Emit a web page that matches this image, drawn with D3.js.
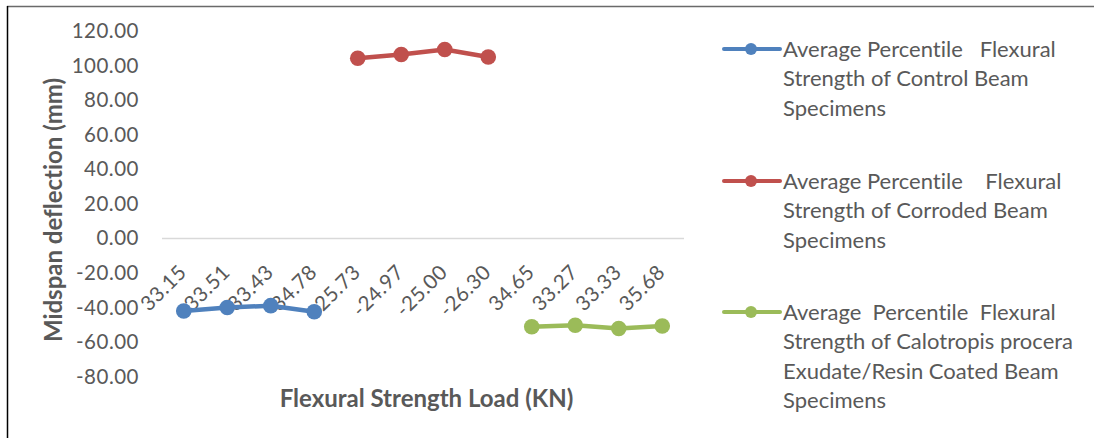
<!DOCTYPE html>
<html>
<head>
<meta charset="utf-8">
<script src="https://cdn.jsdelivr.net/npm/d3@7"></script>
<style>
  html, body { margin: 0; padding: 0; background: #fff; }
  svg { display: block; font-family: Lato, "Open Sans", sans-serif; }
  text { white-space: pre; font-variant-ligatures: none; font-feature-settings: "liga" 0, "clig" 0; }
</style>
</head>
<body>
<svg id="chart" width="1094" height="438"></svg>
<script>
// Category labels along the x axis (load values, KN)
const loadLabels = ["33.15", "33.51", "33.43", "34.78", "-25.73", "-24.97", "-25.00", "-26.30", "34.65", "33.27", "33.33", "35.68"];

// Midspan deflection (mm) for each specimen group
const controlValues  = [-42.0, -40.0, -38.9, -42.4];
const corrodedValues = [104.2, 106.4, 109.3, 105.0];
const coatedValues   = [-51.1, -50.2, -52.1, -50.7];

// Which category index each group starts at
const controlStart = 0, corrodedStart = 4, coatedStart = 8;

const seriesNames = [
  ["Average Percentile   Flexural", "Strength of Control Beam", "Specimens"],
  ["Average Percentile    Flexural", "Strength of Corroded Beam", "Specimens"],
  ["Average  Percentile  Flexural", "Strength of Calotropis procera", "Exudate/Resin Coated Beam", "Specimens"]
];
const seriesColors = ["#4F81BD", "#C0504D", "#9BBB59"];

const yTickValues = [120, 100, 80, 60, 40, 20, 0, -20, -40, -60, -80];

const svg = d3.select("#chart");
const textColor = "#595959";
const tickFont = 20.5, tickSpacing = 0.5;

// frame edges
svg.append("line").attr("x1", 7).attr("x2", 1094).attr("y1", 6.5).attr("y2", 6.5)
  .attr("stroke", "#6a6a6a").attr("stroke-width", 1.5);
svg.append("line").attr("x1", 7.5).attr("x2", 7.5).attr("y1", 6).attr("y2", 438)
  .attr("stroke", "#000").attr("stroke-width", 1.5);

const x = d3.scalePoint().domain(d3.range(loadLabels.length)).range([162, 684]).padding(0.5);
const y = d3.scaleLinear().domain([-80, 120]).range([376.7, 31]);

const locale = d3.formatLocale({decimal: ".", thousands: ",", grouping: [3], currency: ["", ""], minus: "-"});
const fmt = locale.format(".2f");

// y axis labels
const yAxis = d3.axisLeft(y).tickValues(yTickValues).tickFormat(fmt).tickSize(0).tickPadding(0);
const yg = svg.append("g").attr("transform", "translate(139,0)").call(yAxis);
yg.select(".domain").remove();
yg.selectAll("text").attr("font-size", tickFont).attr("letter-spacing", tickSpacing)
  .attr("fill", textColor).attr("font-family", "Lato, sans-serif");

// horizontal axis line at zero
svg.append("line").attr("x1", 162).attr("x2", 684).attr("y1", y(0)).attr("y2", y(0))
  .attr("stroke", "#d9d9d9").attr("stroke-width", 1.5);

// rotated category labels below the zero line
svg.append("g").selectAll("text").data(loadLabels).join("text")
  .attr("transform", (d, i) => `translate(${x(i) + 4},${y(0) + 35}) rotate(-45)`)
  .attr("text-anchor", "end")
  .attr("font-size", tickFont)
  .attr("letter-spacing", tickSpacing)
  .attr("fill", textColor)
  .text(d => d);

// series lines and markers
const groups = [
  {values: controlValues, start: controlStart},
  {values: corrodedValues, start: corrodedStart},
  {values: coatedValues, start: coatedStart}
];
const line = d3.line().x(d => x(d.i)).y(d => y(d.v));
groups.forEach((g, k) => {
  const pts = g.values.map((v, j) => ({i: g.start + j, v}));
  svg.append("path").datum(pts).attr("d", line)
    .attr("fill", "none").attr("stroke", seriesColors[k]).attr("stroke-width", 4.5)
    .attr("stroke-linejoin", "round").attr("stroke-linecap", "round");
  svg.append("g").selectAll("circle").data(pts).join("circle")
    .attr("cx", d => x(d.i)).attr("cy", d => y(d.v)).attr("r", 7.8)
    .attr("fill", seriesColors[k]);
});

// axis titles
svg.append("text").attr("x", 426.5).attr("y", 406.5).attr("text-anchor", "middle")
  .attr("font-size", 24).attr("font-weight", "bold").attr("fill", textColor)
  .text("Flexural Strength Load (KN)");
svg.append("text").attr("transform", "translate(62,210) rotate(-90)").attr("text-anchor", "middle")
  .attr("font-size", 24).attr("font-weight", "bold").attr("fill", textColor)
  .text("Midspan deflection (mm)");

// legend
const legendTops = [49, 181, 312];
const lineGap = 29.5;
seriesNames.forEach((lines, k) => {
  const g = svg.append("g").attr("transform", `translate(0,${legendTops[k]})`);
  g.append("line").attr("x1", 724).attr("x2", 780).attr("y1", 0).attr("y2", 0)
    .attr("stroke", seriesColors[k]).attr("stroke-width", 4).attr("stroke-linecap", "round");
  g.append("circle").attr("cx", 751).attr("cy", 0).attr("r", 6).attr("fill", seriesColors[k]);
  const t = g.append("text").attr("font-size", 22).attr("fill", textColor);
  lines.forEach((s, j) => {
    t.append("tspan").attr("x", 783).attr("y", j * lineGap + 7.5).text(s);
  });
});
</script>
</body>
</html>
